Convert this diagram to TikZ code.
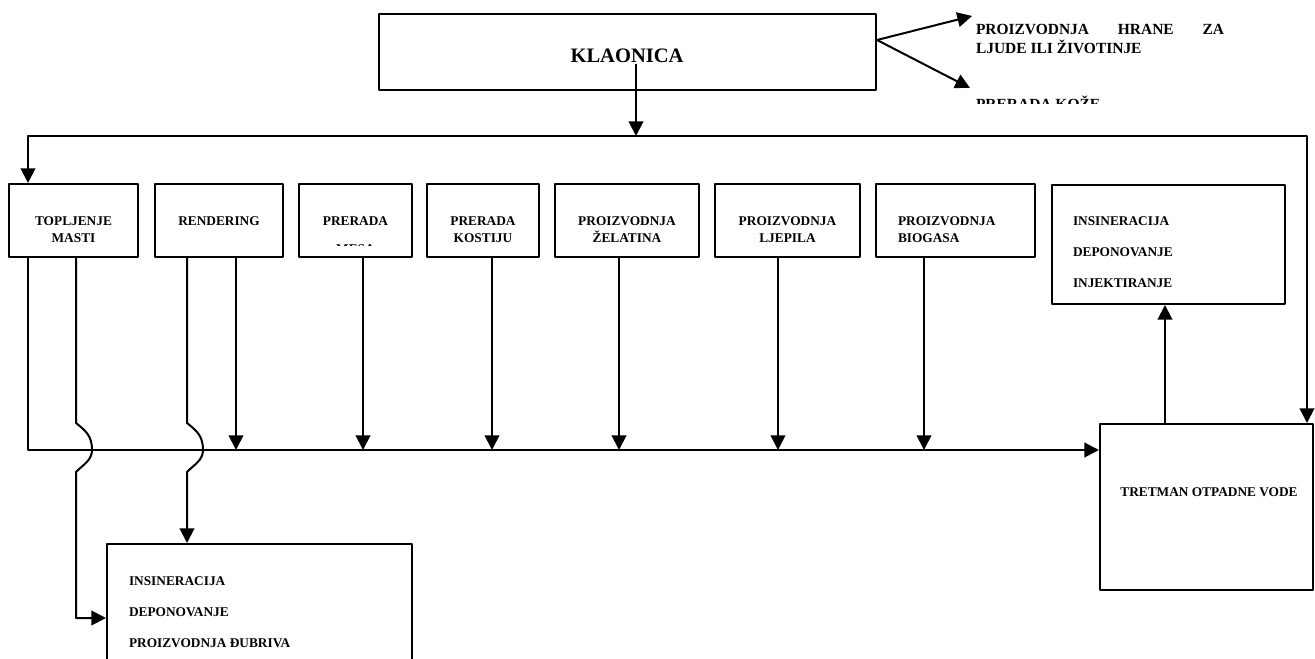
\documentclass[tikz,border=0pt]{standalone}
\usepackage{fontspec}
\setmainfont{Liberation Serif}
\usetikzlibrary{arrows.meta}

\begin{document}
\begin{tikzpicture}[x=0.75pt,y=-0.75pt,>={Triangle[length=11pt,width=11pt]},line width=1.5pt,line join=bevel,
  box/.style 2 args={draw,minimum width=#1*0.75pt,minimum height=#2*0.75pt,inner sep=0pt},
  txt/.style={inner sep=0pt,anchor=north,align=center,font=\fontsize{10}{12.75}\selectfont\bfseries},
  list/.style={inner sep=0pt,anchor=north west,align=left,font=\fontsize{10}{23.25}\selectfont\bfseries}]
\useasboundingbox (0,0) rectangle (1315,659);
\clip (0,0) rectangle (1315,659);
%%
\node (node_klaonica) at (627.5,52) [box={497}{76}] {};
\node (lbl_klaonica) at (627,56) [inner sep=0pt,font=\fontsize{15.4}{18}\selectfont\bfseries] {KLAONICA};
\node (lbl_hrana) at (975,23) [inner sep=0pt,anchor=north west,align=left,font=\fontsize{11.6}{14.25}\selectfont\bfseries] {\makebox[186pt][s]{PROIZVODNJA HRANE ZA}\\LJUDE ILI ŽIVOTINJE};
\begin{scope}
  \clip (960,80) rectangle (1130,104);
  \node (lbl_koza) at (975,95) [inner sep=0pt,anchor=north west,font=\fontsize{11.6}{14.25}\selectfont\bfseries] {PRERADA KOŽE};
\end{scope}
%
\node (node_b1) at (73.5,220.5) [box={129}{73}] {};
\node (node_b2) at (219,220.5) [box={128}{73}] {};
\node (node_b3) at (355.5,220.5) [box={113}{73}] {};
\node (node_b4) at (483,220.5) [box={112}{73}] {};
\node (node_b5) at (627,220.5) [box={144}{73}] {};
\node (node_b6) at (787.5,220.5) [box={145}{73}] {};
\node (node_b7) at (955.5,220.5) [box={159}{73}] {};
\node (node_b8) at (1168.5,244.5) [box={233}{119}] {};
\node (node_tretman) at (1206.5,507) [box={213}{166}] {};
\node (node_out) at (259.5,618) [box={305}{148}] {};
%
\node (lbl_b1) at (73.5,215.5) [txt] {TOPLJENJE\\MASTI};
\node (lbl_b2) at (219,215.5) [txt] {RENDERING};
\node (lbl_b3) at (355.5,215.5) [txt] {PRERADA};
\begin{scope}
  \clip (330,243.5) rectangle (380,245.2);
  \node (lbl_b3b) at (355.5,243.5) [txt] {MESA};
\end{scope}
\node (lbl_b4) at (483,215.5) [txt] {PRERADA\\KOSTIJU};
\node (lbl_b5) at (627,215.5) [txt] {PROIZVODNJA\\ŽELATINA};
\node (lbl_b6) at (787.5,215.5) [txt] {PROIZVODNJA\\LJEPILA};
\node (lbl_b7) at (897,215.5) [txt,anchor=north west,align=left] {PROIZVODNJA\\BIOGASA};
\node (lbl_b8) at (1072,215.5) [list] {INSINERACIJA\\DEPONOVANJE\\INJEKTIRANJE};
\node (lbl_tretman) at (1209,492) [txt,anchor=center] {TRETMAN OTPADNE VODE};
\node (lbl_out) at (128,575.5) [list] {INSINERACIJA\\DEPONOVANJE\\PROIZVODNJA ĐUBRIVA};
%
\coordinate (split) at (636,136);
\coordinate (bus) at (28,136);
\coordinate (downline) at (1307,136);
\coordinate (main) at (28,450);
\coordinate (hrana) at (972,16);
\coordinate (koza) at (970,88);
\coordinate (wave1) at (76,423);
\coordinate (wave2) at (187,423);
%
\draw [->] (lbl_klaonica.south -| split) -- (split);
\draw [<->] (node_b1.north -| bus) -- (bus) -- (downline) -- (node_tretman.north -| downline);
\draw [->] ([yshift=9pt]node_klaonica.east) -- (hrana);
\draw [->] ([yshift=9pt]node_klaonica.east) -- (koza);
\draw [->] (node_b1.south -| main) -- (main) -- (main -| node_tretman.west);
\draw [->] (node_b1.south -| wave1) -- (wave1) .. controls +(10,8) and +(0,-14) .. ++(16,27)
  .. controls +(0,10) and +(8,-8) .. ++(-16,22) -- (wave1 |- node_out.west) -- (node_out.west);
\draw [->] (node_b2.south -| wave2) -- (wave2) .. controls +(10,8) and +(0,-14) .. ++(16,27)
  .. controls +(0,10) and +(8,-8) .. ++(-16,22) -- (wave2 |- node_out.north);
\foreach \n/\x in {b2/236,b3/363,b4/492,b5/619,b6/778,b7/924}
  \draw [->] (node_\n.south -| \x,0) -- (\x,0 |- main);
\draw [->] (node_tretman.north -| 1165,0) -- (node_b8.south -| 1165,0);
%
\end{tikzpicture}
\end{document}
